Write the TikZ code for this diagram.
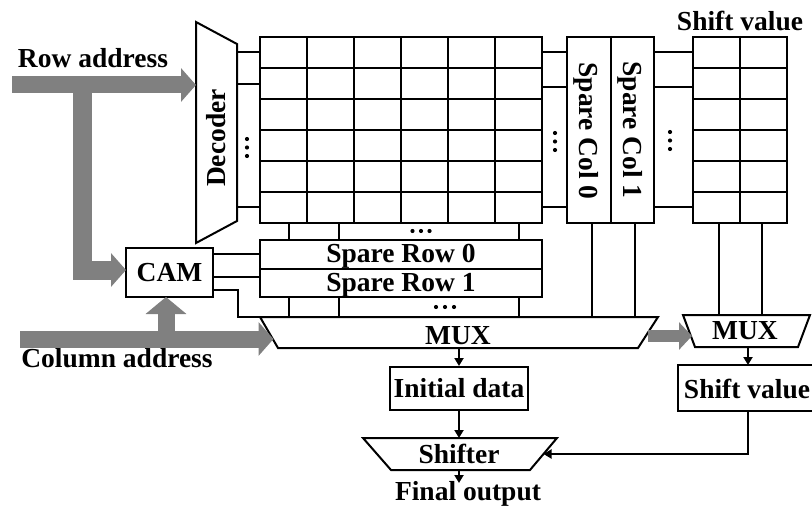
\documentclass[tikz,border=0pt]{standalone}
\usepackage{fontspec}
\setmainfont{Liberation Serif}
\usetikzlibrary{arrows.meta}
\definecolor{arrowgray}{RGB}{128,128,128}
\begin{document}
\begin{tikzpicture}[x=1pt,y=-1pt, line width=2pt, line join=miter,
  every node/.style={font=\fontsize{27.5}{30}\selectfont\bfseries, inner sep=0pt},
  box/.style={draw, rectangle, line width=2pt},
  garrow/.style={draw=arrowgray, line width=17pt, -{Triangle[width=33pt,length=15pt]}},
  garrowsmall/.style={draw=arrowgray, line width=12pt, -{Triangle[width=27pt,length=13pt]}},
  barrow/.style={-{Triangle[width=9pt,length=8pt]}},
  dotmark/.style={fill, circle, minimum size=4.2pt, inner sep=0pt}]
\useasboundingbox (0,0) rectangle (812,508);

% ---------- main array ----------
\node[box, minimum width=282pt, minimum height=186pt] (array) at (401,130) {};
\foreach \x in {307,354,401,448,495} \draw (\x,37) -- (\x,223);
\foreach \y in {68,99,130,161,192} \draw (260,\y) -- (542,\y);

% ---------- decoder ----------
\coordinate (d1) at (196,22);
\coordinate (d2) at (237,44);
\coordinate (d3) at (237,221);
\coordinate (d4) at (196,243);
\draw (d1) -- (d2) -- (d3) -- (d4) -- cycle;
\node[rotate=90] (dectext) at (216.5,138) {Decoder};
\foreach \y in {52.5,84,207.5} \draw (237,\y) -- (array.west |- 0,\y);
\foreach \y in {139,147.5,156} \node[dotmark] at (247,\y) {};

% ---------- spare columns ----------
\node[box, minimum width=87pt, minimum height=186pt] (sparecol) at (610.5,130) {};
\draw (sparecol.north) -- (sparecol.south);
\node[rotate=-90] (sc0) at (586,131) {Spare Col 0};
\node[rotate=-90] (sc1) at (630,130) {Spare Col 1};
\foreach \y in {52.5,87.5,207.5} \draw (array.east |- 0,\y) -- (sparecol.west |- 0,\y);
\foreach \y in {133,141.5,150} \node[dotmark] at (555,\y) {};

% ---------- shift value array ----------
\node[box, minimum width=94pt, minimum height=186pt] (shiftarr) at (740,130) {};
\draw (shiftarr.north) -- (shiftarr.south);
\foreach \y in {68,99,130,161,192} \draw (693,\y) -- (787,\y);
\node[anchor=base] (shifttitle) at (740,31) {Shift value};
\foreach \y in {52.5,87.5,207.5} \draw (sparecol.east |- 0,\y) -- (shiftarr.west |- 0,\y);
\foreach \y in {132,140.5,149} \node[dotmark] at (670,\y) {};

% ---------- spare rows ----------
\node[box, minimum width=282pt, minimum height=29pt, text height=20pt, text depth=4pt] (sr0) at (401,254.5) {Spare Row 0};
\node[box, minimum width=282pt, minimum height=28pt, text height=20pt, text depth=4pt] (sr1) at (401,283) {Spare Row 1};
\foreach \x in {289,339,519} \draw (\x,223) -- (\x,240);
\foreach \x in {412.5,421,429.5} \node[dotmark] at (\x,231) {};

% ---------- main MUX ----------
\coordinate (m1) at (260,317);
\coordinate (m2) at (658,317);
\coordinate (m3) at (638,348);
\coordinate (m4) at (278,348);
\draw (m1) -- (m2) -- (m3) -- (m4) -- cycle;
\node (muxtext) at (458,336) {MUX};
\foreach \x in {289,339,519} \draw (\x,297) -- (\x,317);
\foreach \x in {436,445,454} \node[dotmark] at (\x,307) {};
\foreach \x in {592,635} \draw (\x,223) -- (\x,317);

% ---------- small MUX ----------
\coordinate (s1) at (683,315);
\coordinate (s2) at (810,315);
\coordinate (s3) at (798,347);
\coordinate (s4) at (695,347);
\draw (s1) -- (s2) -- (s3) -- (s4) -- cycle;
\node (smuxtext) at (745,331) {MUX};
\foreach \x in {719,762} \draw (\x,223) -- (\x,315);

% ---------- CAM ----------
\node[box, minimum width=87pt, minimum height=49pt] (cam) at (169.5,272.5) {CAM};
\draw (cam.east |- 0,254) -- (sr0.west |- 0,254);
\draw (cam.east |- 0,277) -- (sr1.west |- 0,277);
\draw (cam.east |- 0,290) -| (238,317) -- (m1);

% ---------- lower boxes ----------
\node[box, minimum width=138pt, minimum height=43pt] (init) at (459,388.5) {Initial data};
\node[box, minimum width=140pt, minimum height=46pt, anchor=west] (shiftbox) at (677,388) {};
\node (shiftboxtext) at (747,389) {Shift value};

\coordinate (h1) at (363,438);
\coordinate (h2) at (557,438);
\coordinate (h3) at (530,470);
\coordinate (h4) at (391,470);
\draw (h1) -- (h2) -- (h3) -- (h4) -- cycle;
\node (shiftertext) at (459,454) {Shifter};
\coordinate (hr) at (543.5,454);
\coordinate (hb) at (459,470);
\node[anchor=base] (final) at (468,500) {Final output};

% ---------- black arrows ----------
\draw[barrow] (init.north |- m4) -- (init.north);
\draw[barrow] (init.south) -- (init.south |- h1);
\draw[barrow] (hb) -- (459,483);
\draw[barrow] (748,347) -- (748,365);
\draw[barrow] (748,411) |- (hr);

% ---------- gray arrows ----------
\node[anchor=base] (rowaddr) at (93,68) {Row address};
\node[anchor=base] (coladdr) at (117,367) {Column address};
\coordinate (rastart) at (12,85);
\coordinate (castart) at (20,339);
\draw[garrow] (rastart) -- (196,85);
\draw[garrow, line width=19pt] (82.5,85) -- (82.5,270) -- (126,270);
\draw[garrow] (castart) -- (273.5,339);
\draw[garrow, -{Triangle[width=40pt,length=17pt]}] (166,339) -- (166,297);
\draw[garrowsmall] (648,336) -- (692,336);
\end{tikzpicture}
\end{document}
